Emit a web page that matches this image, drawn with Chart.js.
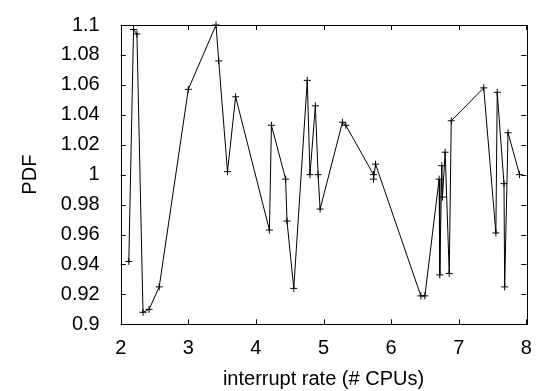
<!DOCTYPE html>
<html>
<head>
<meta charset="utf-8">
<script src="https://cdn.jsdelivr.net/npm/chart.js@4/dist/chart.umd.min.js"></script>
<style>
  html,body{margin:0;padding:0;background:#fff}
  #c{display:block}
</style>
</head>
<body>
<canvas id="c" width="543" height="391"></canvas>
<script>
// datos
const xVals=[2.12,2.19,2.24,2.33,2.42,2.57,3.00,3.41,3.45,3.58,3.70,4.20,4.23,4.44,4.46,4.56,4.76,4.80,4.88,4.92,4.95,5.28,5.33,5.74,5.74,5.77,6.44,6.50,6.71,6.72,6.75,6.76,6.80,6.86,6.89,7.37,7.55,7.57,7.67,7.68,7.73,7.90];
const yVals=[0.942,1.097,1.094,0.908,0.910,0.925,1.057,1.100,1.076,1.002,1.052,0.963,1.033,0.997,0.969,0.924,1.063,1.000,1.046,1.000,0.977,1.035,1.033,1.000,0.997,1.007,0.919,0.919,0.997,0.933,1.006,0.985,1.015,0.934,1.036,1.058,0.961,1.055,0.994,0.925,1.028,1.000];
const xTicks=[2,3,4,5,6,7,8];
const yTicks=[0.9,0.92,0.94,0.96,0.98,1,1.02,1.04,1.06,1.08,1.1];
const yTickLabels=['0.9','0.92','0.94','0.96','0.98','1','1.02','1.04','1.06','1.08','1.1'];

const FONT={family:"'Liberation Sans', Arial, sans-serif",size:20};

// marco + ticks hacia adentro (estilo gnuplot)
const marco={
  id:'marco',
  afterDraw(ch){
    const {ctx,chartArea:a,scales:{x,y}}=ch;
    const tl=5;
    ctx.save();
    ctx.strokeStyle='#000';ctx.lineWidth=1;
    ctx.beginPath();
    x.ticks.forEach(t=>{
      const px=Math.round(x.getPixelForValue(t.value))+.5;
      ctx.moveTo(px,a.bottom);ctx.lineTo(px,a.bottom-tl);
      ctx.moveTo(px,a.top);ctx.lineTo(px,a.top+tl);
    });
    y.ticks.forEach(t=>{
      const py=Math.round(y.getPixelForValue(t.value))+.5;
      ctx.moveTo(a.left,py);ctx.lineTo(a.left+tl,py);
      ctx.moveTo(a.right,py);ctx.lineTo(a.right-tl,py);
    });
    ctx.stroke();
    ctx.strokeRect(Math.round(a.left)+.5,Math.round(a.top)+.5,Math.round(a.right-a.left),Math.round(a.bottom-a.top));
    ctx.restore();
  }
};

new Chart(document.getElementById('c'),{
  type:'scatter',
  data:{datasets:[{
    data:xVals.map((v,i)=>({x:v,y:yVals[i]})),
    showLine:true,
    borderColor:'#000',borderWidth:1,
    pointStyle:'cross',pointRadius:3.5,pointBorderWidth:1,
    pointBorderColor:'#000',pointBackgroundColor:'#000',
    clip:false,tension:0
  }]},
  options:{
    responsive:false,devicePixelRatio:1,animation:false,
    layout:{padding:{top:14,right:16.7,bottom:0,left:0}},
    plugins:{legend:{display:false},tooltip:{enabled:false}},
    scales:{
      x:{
        type:'linear',min:2,max:8,
        afterBuildTicks:s=>{s.ticks=xTicks.map(v=>({value:v}));},
        afterFit:s=>{s.height=66.7;},
        grid:{display:false},border:{display:false},
        ticks:{color:'#000',font:FONT,padding:4,maxRotation:0,callback:v=>String(v)},
        title:{display:true,text:'interrupt rate (# CPUs)',color:'#000',font:FONT,padding:{top:0,bottom:0}}
      },
      y:{
        type:'linear',min:0.9,max:1.1,
        afterBuildTicks:s=>{s.ticks=yTicks.map(v=>({value:v}));},
        afterFit:s=>{s.width=120.7;},
        grid:{display:false},border:{display:false},
        ticks:{color:'#000',font:FONT,padding:13,callback:(v,i)=>yTickLabels[i]},
        title:{display:true,text:'PDF',color:'#000',font:FONT,padding:{top:18,bottom:0}}
      }
    }
  },
  plugins:[marco]
});
</script>
</body>
</html>
